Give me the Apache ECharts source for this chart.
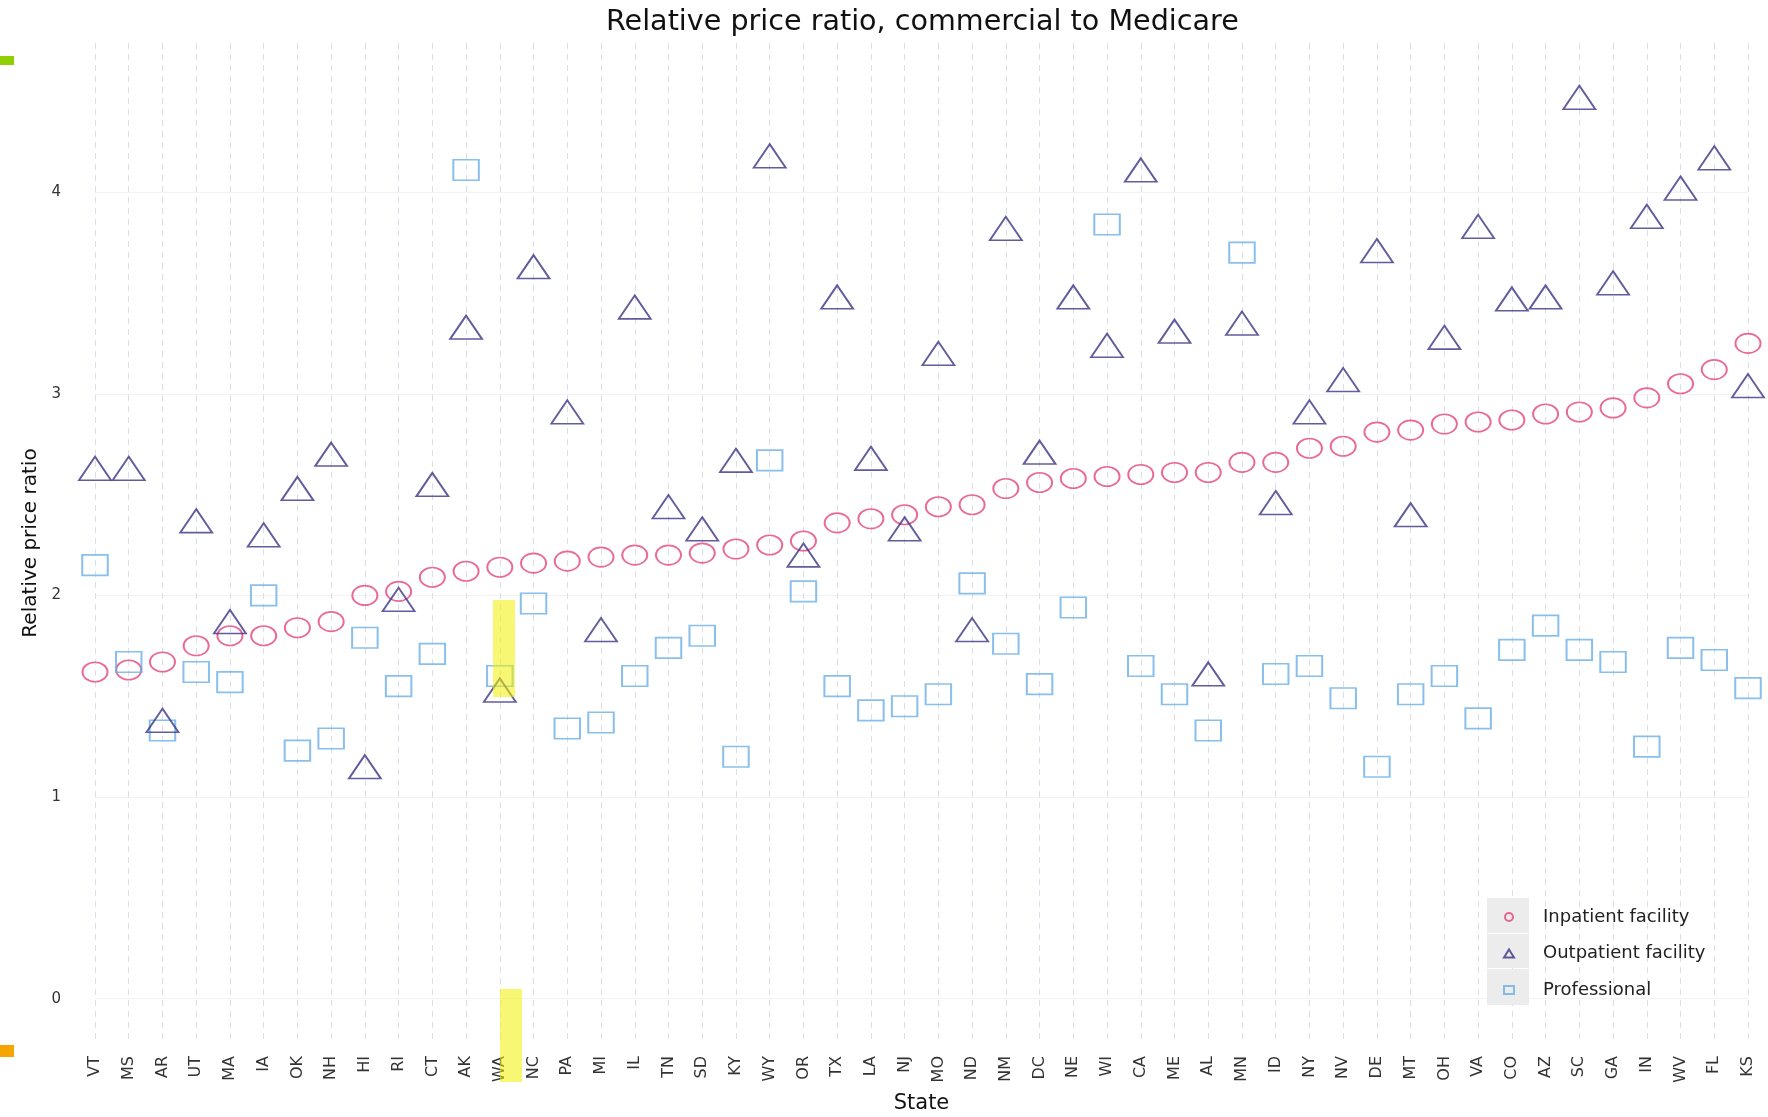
<!DOCTYPE html>
<html>
<head>
<meta charset="utf-8">
<script src="https://cdn.jsdelivr.net/npm/echarts@6/dist/echarts.min.js"></script>
<style>
html,body{margin:0;padding:0;background:#ffffff;}
#chart{width:1768px;height:1117px;}
</style>
</head>
<body>
<div id="chart"></div>
<script>
// ---- data ----
const states = ['VT','MS','AR','UT','MA','IA','OK','NH','HI','RI','CT','AK','WA','NC','PA','MI','IL','TN','SD','KY','WY','OR','TX','LA','NJ','MO','ND','NM','DC','NE','WI','CA','ME','AL','MN','ID','NY','NV','DE','MT','OH','VA','CO','AZ','SC','GA','IN','WV','FL','KS'];
const inpatient = [1.62,1.63,1.67,1.75,1.80,1.80,1.84,1.87,2.00,2.02,2.09,2.12,2.14,2.16,2.17,2.19,2.20,2.20,2.21,2.23,2.25,2.27,2.36,2.38,2.40,2.44,2.45,2.53,2.56,2.58,2.59,2.60,2.61,2.61,2.66,2.66,2.73,2.74,2.81,2.82,2.85,2.86,2.87,2.90,2.91,2.93,2.98,3.05,3.12,3.25];
const outpatient = [2.61,2.61,1.36,2.35,1.85,2.28,2.51,2.68,1.13,1.96,2.53,3.31,1.51,3.61,2.89,1.81,3.41,2.42,2.31,2.65,4.16,2.18,3.46,2.66,2.31,3.18,1.81,3.80,2.69,3.46,3.22,4.09,3.29,1.59,3.33,2.44,2.89,3.05,3.69,2.38,3.26,3.81,3.45,3.46,4.45,3.53,3.86,4.00,4.15,3.02];
const professional = [2.15,1.67,1.33,1.62,1.57,2.00,1.23,1.29,1.79,1.55,1.71,4.11,1.60,1.96,1.34,1.37,1.60,1.74,1.80,1.20,2.67,2.02,1.55,1.43,1.45,1.51,2.06,1.76,1.56,1.94,3.84,1.65,1.51,1.33,3.70,1.61,1.65,1.49,1.15,1.51,1.60,1.39,1.73,1.85,1.73,1.67,1.25,1.74,1.68,1.54];
const yTicks = [0,1,2,3,4];
const seriesNames = ['Inpatient facility','Outpatient facility','Professional'];
const titleText = 'Relative price ratio, commercial to Medicare';
const xTitle = 'State';
const yTitle = 'Relative price ratio';

// ---- styling ----
const FONT = 'DejaVu Sans';
const PINK = '#e3457c', NAVY = '#3a3584', BLUE = '#6aafe8';

const chart = echarts.init(document.getElementById('chart'), null, {renderer: 'canvas'});

const option = {
  animation: false,
  backgroundColor: '#ffffff',
  title: {
    text: titleText,
    left: 601, top: 3,
    textStyle: {fontFamily: FONT, fontSize: 28.6, fontWeight: 'normal', color: '#111111'}
  },
  grid: {left: 95, right: 20, top: 43, bottom: 74, containLabel: false, outerBoundsMode: 'none'},
  legend: {
    data: seriesNames,
    orient: 'vertical',
    left: 1503, top: 907,
    padding: 0,
    itemWidth: 10, itemHeight: 8, itemGap: 16.5,
    z: 5,
    textStyle: {fontFamily: FONT, fontSize: 18, color: '#222222', lineHeight: 20, padding: [0, 0, 0, 24]}
  },
  xAxis: {
    type: 'category',
    data: states,
    boundaryGap: false,
    name: xTitle,
    nameLocation: 'middle',
    nameGap: 50,
    nameMoveOverlap: false,
    nameTextStyle: {fontFamily: FONT, fontSize: 21, color: '#111111'},
    axisLine: {show: false},
    axisTick: {show: false},
    axisLabel: {rotate: 90, margin: 13, interval: 0, fontFamily: FONT, fontSize: 16, color: '#333333'},
    splitLine: {show: true, lineStyle: {type: [6, 5], color: '#dedeea', width: 1}}
  },
  yAxis: {
    type: 'value',
    min: -0.22, max: 4.74,
    splitNumber: 5,
    name: yTitle,
    nameLocation: 'middle',
    nameRotate: 90,
    nameGap: 54,
    nameMoveOverlap: false,
    nameTextStyle: {fontFamily: FONT, fontSize: 20, color: '#111111'},
    axisLine: {show: false},
    axisTick: {show: false},
    axisLabel: {
      margin: 34, fontFamily: FONT, fontSize: 15, color: '#333333',
      showMinLabel: false, showMaxLabel: false,
      formatter: v => yTicks.includes(v) ? String(v) : ''
    },
    splitLine: {show: true, showMinLine: false, showMaxLine: false, lineStyle: {color: '#f2f2f5', width: 1}}
  },
  series: [
    {
      name: seriesNames[0], type: 'scatter', data: inpatient,
      symbol: 'circle', symbolSize: [25, 19.5],
      itemStyle: {color: 'rgba(0,0,0,0)', borderColor: PINK, borderWidth: 1.8},
      z: 2
    },
    {
      name: seriesNames[2], type: 'scatter', data: professional,
      symbol: 'rect', symbolSize: [25.5, 20.5],
      itemStyle: {color: 'rgba(0,0,0,0)', borderColor: BLUE, borderWidth: 1.8},
      z: 3
    },
    {
      name: seriesNames[1], type: 'scatter', data: outpatient,
      symbol: 'triangle', symbolSize: [32, 23.5], symbolOffset: [0, -4],
      itemStyle: {color: 'rgba(0,0,0,0)', borderColor: NAVY, borderWidth: 1.8},
      z: 4
    }
  ],
  graphic: {
    elements: [
      // legend key backgrounds
      {type: 'rect', left: 1487, top: 898, shape: {width: 42, height: 35}, style: {fill: '#ececec'}, z: 1},
      {type: 'rect', left: 1487, top: 934, shape: {width: 42, height: 34}, style: {fill: '#ececec'}, z: 1},
      {type: 'rect', left: 1487, top: 969, shape: {width: 42, height: 36}, style: {fill: '#ececec'}, z: 1},
      // highlight marks
      {type: 'rect', left: 493, top: 600, shape: {width: 22, height: 97}, style: {fill: 'rgba(240,240,0,0.55)'}, z: 100},
      {type: 'rect', left: 500, top: 989, shape: {width: 22, height: 93}, style: {fill: 'rgba(240,240,0,0.55)'}, z: 100},
      {type: 'rect', left: 0, top: 56, shape: {width: 14, height: 9}, style: {fill: '#8fd000'}, z: 100},
      {type: 'rect', left: 0, top: 1045, shape: {width: 14, height: 12}, style: {fill: '#f5a400'}, z: 100}
    ]
  }
};
chart.setOption(option);
</script>
</body>
</html>
